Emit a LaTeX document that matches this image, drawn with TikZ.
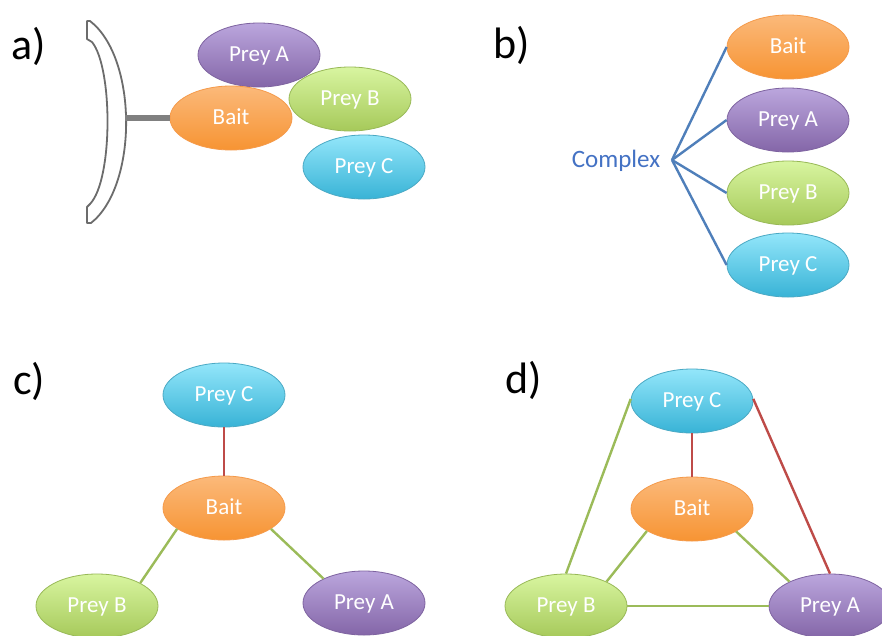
\documentclass[tikz,border=0pt]{standalone}
\usepackage{fontspec}
\setmainfont{Carlito}
\usetikzlibrary{shapes.geometric}
\definecolor{orT}{HTML}{FBB97A}\definecolor{orB}{HTML}{F79433}\definecolor{orE}{HTML}{F59A4A}
\definecolor{puT}{HTML}{BBA6DD}\definecolor{puB}{HTML}{8466A8}\definecolor{puE}{HTML}{7E63A0}
\definecolor{grT}{HTML}{D8F5A0}\definecolor{grB}{HTML}{A6C95A}\definecolor{grE}{HTML}{98B957}
\definecolor{blT}{HTML}{93E6FA}\definecolor{blB}{HTML}{38B3D6}\definecolor{blE}{HTML}{4AA9C4}
\definecolor{linkblue}{HTML}{4F7FBA}\definecolor{txtblue}{HTML}{4472C4}
\definecolor{linkred}{HTML}{BE4B48}\definecolor{linkgreen}{HTML}{9BBB59}
\tikzset{
  blob/.style={ellipse, minimum width=122pt, minimum height=64pt, inner sep=0pt,
    text=white, font=\fontsize{23}{26}\selectfont, line width=0.8pt,
    text height=13pt, text depth=0pt},
  bait/.style={blob, draw=orE, top color=orT, bottom color=orB},
  preya/.style={blob, draw=puE, top color=puT, bottom color=puB},
  preyb/.style={blob, draw=grE, top color=grT, bottom color=grB},
  preyc/.style={blob, draw=blE, top color=blT, bottom color=blB},
  panel/.style={font=\fontsize{44}{48}\selectfont, inner sep=0pt},
  bluelink/.style={draw=linkblue, line width=2.4pt},
  redlink/.style={draw=linkred, line width=2.4pt},
  greenlink/.style={draw=linkgreen, line width=2.4pt},
  holder/.style={draw=gray!85!black, line width=1.8pt, fill=white, line join=round},
  stick/.style={draw=gray, line width=6pt}
}
\begin{document}
\begin{tikzpicture}[x=1pt,y=-1pt]
\useasboundingbox (0,0) rectangle (882,635);
\clip (0,0) rectangle (882,635);
\fill[white] (0,0) rectangle (882,635);

% ---------- a) ----------
\node[panel] (la) at (29,46) {a)};
\draw[holder] (87,21) -- (90,21) .. controls (138,58) and (138,186) .. (91,223)
  -- (87,223) -- (87,207) -- (90,204) .. controls (113,180) and (113,68) .. (92,42) -- (87,39) -- cycle;
\node[preya] (aA) at (259,55) {Prey A};
\node[preyb] (aB) at (350,99) {Prey B};
\node[bait]  (aBait) at (231,118) {Bait};
\node[preyc] (aC) at (364,167) {Prey C};
\coordinate (holdR) at (125,118);
\draw[stick] (holdR) -- (aBait.west);

% ---------- b) ----------
\node[panel] (lb) at (512,45) {b)};
\node[font=\fontsize{25}{28}\selectfont, text=txtblue, inner sep=0pt] (cx) at (616,161) {Complex};
\coordinate (hub) at (672,160);
\node[bait]  (bBait) at (788,47) {Bait};
\node[preya] (bA) at (788,120) {Prey A};
\node[preyb] (bB) at (788,193) {Prey B};
\node[preyc] (bC) at (788,265) {Prey C};
\draw[bluelink] (hub) -- (bBait.west);
\draw[bluelink] (hub) -- (bA.west);
\draw[bluelink] (hub) -- (bB.west);
\draw[bluelink] (hub) -- (bC.west);

% ---------- c) ----------
\node[panel] (lc) at (29,381) {c)};
\node[preyc] (cC) at (224,395) {Prey C};
\node[bait]  (cBait) at (224,508) {Bait};
\node[preyb] (cB) at (97,606) {Prey B};
\node[preya] (cA) at (364,603) {Prey A};
\draw[redlink] (cC.south) -- (cBait.north);
\draw[greenlink] (cBait.204) -- (cB.28);
\draw[greenlink] (cBait.336) -- (cA.149);

% ---------- d) ----------
\node[panel] (ld) at (524,380) {d)};
\node[preyc] (dC) at (692,401) {Prey C};
\node[bait]  (dBait) at (692,509) {Bait};
\node[preyb] (dB) at (566,606) {Prey B};
\node[preya] (dA) at (830,606) {Prey A};
\draw[greenlink] (dC.178) -- (dB.north);
\draw[redlink] (dC.2) -- (dA.north);
\draw[redlink] (dC.south) -- (dBait.north);
\draw[greenlink] (dBait.206) -- (dB.31);
\draw[greenlink] (dBait.333) -- (dA.149);
\draw[greenlink] (dB.east) -- (dA.west);
\end{tikzpicture}
\end{document}
